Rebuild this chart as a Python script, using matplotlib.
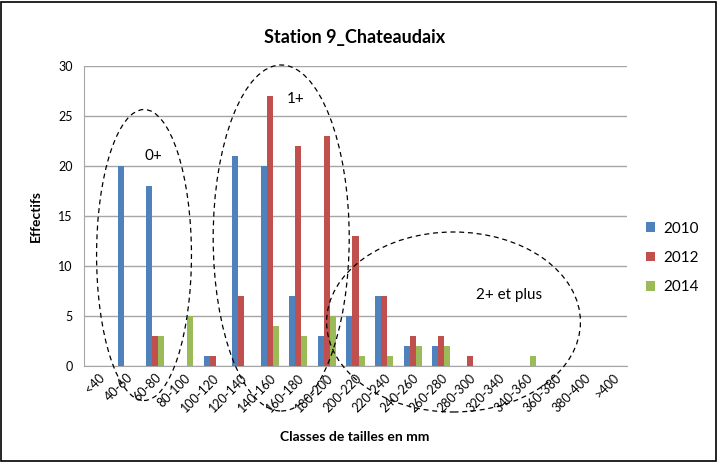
import matplotlib
matplotlib.use("Agg")
import matplotlib.pyplot as plt
from matplotlib.patches import Ellipse, Rectangle
import numpy as np

plt.rcParams['font.family'] = ['Lato', 'DejaVu Sans']

# data
classes = ['<40', '40-60', '60-80', '80-100', '100-120', '120-140', '140-160',
           '160-180', '180-200', '200-220', '220-240', '240-260', '260-280',
           '280-300', '320-340', '340-360', '360-380', '380-400', '>400']
y2010 = [0, 20, 18, 0, 1, 21, 20, 7, 3, 5, 7, 2, 2, 0, 0, 0, 0, 0, 0]
y2012 = [0, 0, 3, 0, 1, 7, 27, 22, 23, 13, 7, 3, 3, 1, 0, 0, 0, 0, 0]
y2014 = [0, 0, 3, 5, 0, 0, 4, 3, 5, 1, 1, 2, 2, 0, 0, 1, 0, 0, 0]
years = ['2010', '2012', '2014']
colors = ['#4F81BD', '#C0504D', '#9BBB59']

fig = plt.figure(figsize=(7.17, 4.62), dpi=100)
ax = fig.add_axes([84 / 717, 1 - 366 / 462, 543 / 717, 300 / 462])

x = np.arange(len(classes))
w = 0.21
for k, (vals, c, lab) in enumerate(zip([y2010, y2012, y2014], colors, years)):
    ax.bar(x + (k - 1) * w, vals, w, color=c, label=lab, zorder=3)

ax.set_xlim(-0.5, len(classes) - 0.5)
ax.set_ylim(0, 30)
ax.set_yticks(range(0, 31, 5))
ax.yaxis.grid(True, color='#A6A6A6', linewidth=1)
ax.set_axisbelow(True)
ax.tick_params(axis='y', length=0, labelsize=9, pad=8)
ax.set_xticks(x)
ax.set_xticklabels(classes, rotation=45, ha='right', va='top', fontsize=9,
                   rotation_mode='anchor')
ax.tick_params(axis='x', length=0, pad=4)
for s in ['top', 'right']:
    ax.spines[s].set_visible(False)
ax.spines['left'].set_color('#A6A6A6')
ax.spines['bottom'].set_color('#A6A6A6')

ax.set_ylabel('Effectifs', fontsize=10, fontweight='bold', labelpad=12)
fig.text(355 / 717, 1 - 437 / 462, 'Classes de tailles en mm', ha='center',
         va='center', fontsize=10, fontweight='bold')
fig.text(355 / 717, 1 - 38 / 462, 'Station 9_Chateaudaix', ha='center',
         va='center', fontsize=13, fontweight='bold')

ax.legend(loc='center left', bbox_to_anchor=(1.01, 0.36), frameon=False,
          fontsize=11, handlelength=0.6, handleheight=0.6, labelspacing=1.0,
          handletextpad=0.5)

# dashed ellipses around age groups
for cx, cy, ew, eh in [(1.60, 11.1, 3.32, 29.1), (6.40, 12.8, 4.76, 34.6),
                       (12.43, 4.4, 8.88, 18.0)]:
    ax.add_patch(Ellipse((cx, cy), ew, eh, fill=False, linestyle=(0, (4, 3)),
                         linewidth=0.9, edgecolor='black', clip_on=False, zorder=5))
ax.text(1.63, 20.6, '0+', fontsize=11)
ax.text(6.6, 26.3, '1+', fontsize=11)
ax.text(13.2, 6.7, '2+ et plus', fontsize=11)

fig.patches.append(Rectangle((0.002, 0.003), 0.996, 0.993, transform=fig.transFigure,
                             fill=False, edgecolor='black', linewidth=1.2))

fig.savefig('out.png', dpi=100)
